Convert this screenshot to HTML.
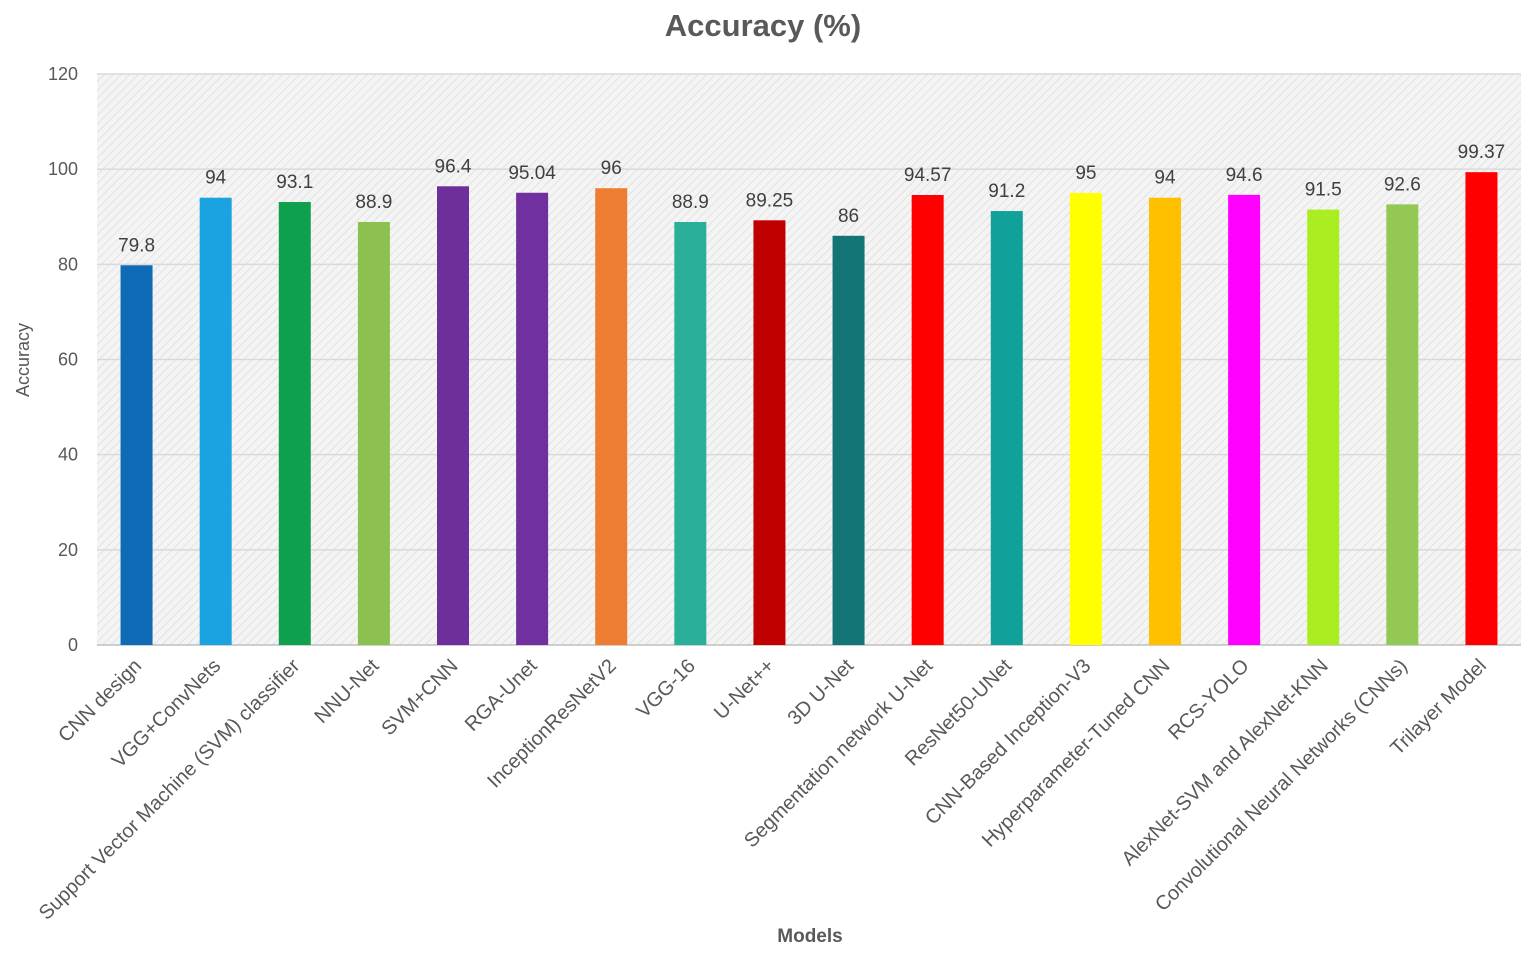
<!DOCTYPE html>
<html><head><meta charset="utf-8"><style>
body{margin:0;background:#fff;font-family:"Liberation Sans",sans-serif}
</style></head><body>
<svg id="chart" width="1535" height="953" xmlns="http://www.w3.org/2000/svg">
<defs><pattern id="hatch" width="6" height="6" patternUnits="userSpaceOnUse" patternTransform="rotate(45)"><rect width="6" height="6" fill="#f4f4f4"/><line x1="0" y1="0" x2="0" y2="6" stroke="#e2e2e2" stroke-width="2"/></pattern></defs>
<text x="763" y="36" text-anchor="middle" font-size="31" font-weight="bold" fill="#595959">Accuracy (%)</text>
<rect x="97" y="74" width="1424" height="571" fill="url(#hatch)"/>
<text transform="translate(29,360) rotate(-90)" text-anchor="middle" font-size="18" fill="#595959">Accuracy</text>
<text x="810" y="942" text-anchor="middle" font-size="19" font-weight="bold" fill="#595959">Models</text>
<g id="g"></g>
</svg>
<script>
const categories=["CNN design","VGG+ConvNets","Support Vector Machine (SVM) classifier","NNU-Net","SVM+CNN","RGA-Unet","InceptionResNetV2","VGG-16","U-Net++","3D U-Net","Segmentation network U-Net","ResNet50-UNet","CNN-Based Inception-V3","Hyperparameter-Tuned CNN","RCS-YOLO","AlexNet-SVM and AlexNet-KNN","Convolutional Neural Networks (CNNs)","Trilayer Model"];
const values=[79.8,94,93.1,88.9,96.4,95.04,96,88.9,89.25,86,94.57,91.2,95,94,94.6,91.5,92.6,99.37];
const valueLabels=["79.8","94","93.1","88.9","96.4","95.04","96","88.9","89.25","86","94.57","91.2","95","94","94.6","91.5","92.6","99.37"];
const colors=["#0f6bb5","#1aa3e0","#0fa04f","#8cc152","#6e2f9a","#7030a0","#ed7d31","#2ab09a","#c00000","#137575","#ff0000","#12a09a","#ffff00","#ffc000","#ff00ff","#aaee22","#92c853","#ff0000"];
const yTicks=[0,20,40,60,80,100,120];
const X0=97,X1=1521,Y0=645,Y1=74,YMAX=120;
const band=(X1-X0)/categories.length;
const xc=i=>X0+band*(i+0.5);
const y=v=>Y0-(v/YMAX)*(Y0-Y1);
const g=document.getElementById('g');
const NS="http://www.w3.org/2000/svg";
function mk(t,a){const e=document.createElementNS(NS,t);for(const k in a)e.setAttribute(k,a[k]);g.appendChild(e);return e;}
yTicks.forEach(t=>{
 const l=mk('line',{x1:X0,x2:X1,y1:y(t),y2:y(t),stroke:t===0?'#bfbfbf':'#d9d9d9','stroke-width':1.5});
 
 
 const tx=mk('text',{x:78,y:y(t)+6,'text-anchor':'end','font-size':18,fill:'#595959'});
 tx.textContent=t;
 
 
});
categories.forEach((c,i)=>{
 const bw=32;
 const r=mk('rect',{x:xc(i)-bw/2,y:y(values[i]),width:bw,height:Y0-y(values[i]),fill:colors[i]});
 
 
 const v=mk('text',{x:xc(i),y:y(values[i])-14,'text-anchor':'middle','font-size':19,fill:'#404040'});
 v.textContent=valueLabels[i];
 
 
 const lx=xc(i)+6,ly=Y0+22;
 const t=mk('text',{x:lx,y:ly,'text-anchor':'end','font-size':20,fill:'#595959',transform:`rotate(-45 ${lx} ${ly})`});
 t.textContent=c;
 
 
});
</script>
</body></html>
